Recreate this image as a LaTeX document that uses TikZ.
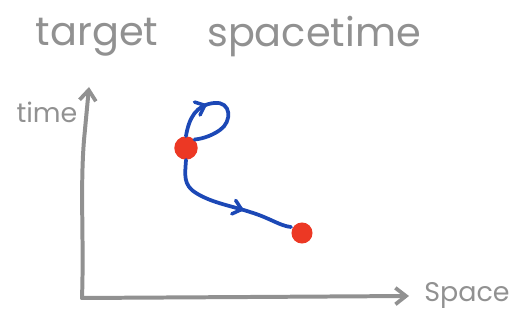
\documentclass[tikz,border=0pt]{standalone}
\usepackage{fontspec}
\setmainfont{Poppins}
\usetikzlibrary{arrows.meta,decorations.markings}
\definecolor{pen}{RGB}{145,145,145}
\definecolor{ink}{RGB}{28,72,182}
\definecolor{dotred}{RGB}{236,56,36}
\tikzset{
  axisline/.style={draw=pen,line width=3.4pt,line cap=round,line join=round},
  inkline/.style={draw=ink,line width=3.2pt,line cap=round,line join=round},
  chev/.style={-{Straight Barb[length=9pt,width=14pt,line width=3.2pt]}},
  reddot/.style={circle,fill=dotred,inner sep=0pt,minimum size=#1},
  handtext/.style={text=pen,inner sep=0pt},
  midarrow/.style={postaction={decorate},decoration={markings,
     mark=at position #1 with {\draw[ink,line width=3pt,line cap=round,line join=round] (-7pt,6pt) -- (0,0) -- (-7pt,-6pt);}}}
}
\begin{document}
\begin{tikzpicture}[x=0.03cm,y=-0.03cm]
\useasboundingbox (0,0) rectangle (518,321);
% titles
\node[handtext,font=\fontsize{34}{34}\selectfont] (t1) at (97,37) {target};
\node[handtext,font=\fontsize{34}{34}\selectfont] (t2) at (314,37) {spacetime};
% axes
\coordinate (o) at (82,298);
\coordinate (ytip) at (89,87);
\coordinate (xtip) at (409,296);
\draw[axisline,chev] (o) .. controls (84,240) and (80,190) .. (84,140) -- (ytip);
\draw[axisline,chev] (o) -- (250,297) -- (xtip);
\node[handtext,font=\fontsize{23}{23}\selectfont] (tl) at (47,112) {time};
\node[handtext,font=\fontsize{23}{23}\selectfont] (sl) at (467,295) {Space};
% dots
\node[reddot=20] (d1) at (186,148) {};
\node[reddot=18] (d2) at (302,233) {};
% loop
\draw[inkline,midarrow=0.33] (d1.north) .. controls (189,118) and (196,105) .. (214,103)
   .. controls (232,101) and (232,122) .. (220,130)
   .. controls (210,137) and (200,139) .. (d1.north east);
% path to second dot
\draw[inkline,midarrow=0.62] (d1.south) .. controls (185,175) and (183,185) .. (196,193)
   .. controls (212,203) and (232,206) .. (250,212)
   .. controls (270,218) and (280,226) .. (291,227);
\end{tikzpicture}
\end{document}
